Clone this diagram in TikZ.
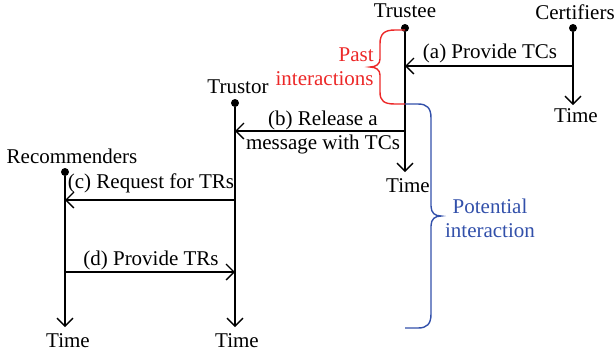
\documentclass[tikz,border=0pt]{standalone}
\usepackage{fontspec}
\setmainfont{Liberation Serif}
\usetikzlibrary{arrows.meta}
\definecolor{pastred}{RGB}{236,40,40}
\definecolor{potblue}{RGB}{50,80,170}
\begin{document}
\begin{tikzpicture}[x=0.5pt,y=-0.5pt,
  every node/.style={font=\fontsize{10.5}{12}\selectfont, inner sep=0pt},
  dot/.style={circle, fill=black, inner sep=0pt, minimum size=4pt},
  life/.style={line width=0.65pt, -{Straight Barb[length=4pt,width=8pt]}},
  msg/.style={line width=0.65pt, -{Straight Barb[length=4pt,width=8pt]}},
  lbl/.style={align=center},
  brace/.style={line width=0.7pt}
]
\useasboundingbox (0,0) rectangle (616,355);
% actors
\node[dot] (tee) at (405,28) {};
\node[dot] (cer) at (573,28) {};
\node[dot] (tor) at (235,103) {};
\node[dot] (rec) at (65,172) {};
\node (teeL) at (405,11) {Trustee};
\node (cerL) at (575,12) {Certifiers};
\node (torL) at (238,87) {Trustor};
\node (recL) at (72,156) {Recommenders};
% lifeline ends
\coordinate (teeE) at (405,172);
\coordinate (cerE) at (573,105);
\coordinate (torE) at (235,327);
\coordinate (recE) at (65,327);
\draw[life] (tee) -- (teeE);
\draw[life] (cer) -- (cerE);
\draw[life] (tor) -- (torE);
\draw[life] (rec) -- (recE);
\node (teeT) at (408,186) {Time};
\node (cerT) at (576,116) {Time};
\node (torT) at (237,341) {Time};
\node (recT) at (68,341) {Time};
% messages
\coordinate (a1) at (573,66); \coordinate (a2) at (405,66);
\coordinate (b1) at (405,131); \coordinate (b2) at (235,131);
\coordinate (c1) at (235,200); \coordinate (c2) at (65,200);
\coordinate (d1) at (65,272); \coordinate (d2) at (235,272);
\draw[msg] (a1) -- (a2);
\draw[msg] (b1) -- (b2);
\draw[msg] (c1) -- (c2);
\draw[msg] (d1) -- (d2);
\node (aL) at (490,53) {(a) Provide TCs};
\node[lbl] (bL) at (323,132) {(b) Release a\\message with TCs};
\node (cL) at (151,183) {(c) Request for TRs};
\node (dL) at (151,260) {(d) Provide TRs};
% braces
\draw[brace, pastred] (405,30) -- (395,30) .. controls (384,30) and (380,34) .. (380,44) -- (380,59)
  .. controls (380,64) and (376,67) .. (370,67) .. controls (376,67) and (380,70) .. (380,75)
  -- (380,92) .. controls (380,101) and (384,104) .. (395,104) -- (405,104);
\node[lbl, pastred, align=right, anchor=east] (pastL) at (374,67) {Past\\interactions};
\draw[brace, potblue] (405,104) -- (418,104) .. controls (427,104) and (431,108) .. (431,118) -- (431,206)
  .. controls (431,213) and (435,216) .. (441,216) .. controls (435,216) and (431,219) .. (431,226)
  -- (431,314) .. controls (431,324) and (427,328) .. (418,328) -- (405,328);
\node[lbl, potblue] (potL) at (490,218) {Potential\\interaction};
\end{tikzpicture}
\end{document}
